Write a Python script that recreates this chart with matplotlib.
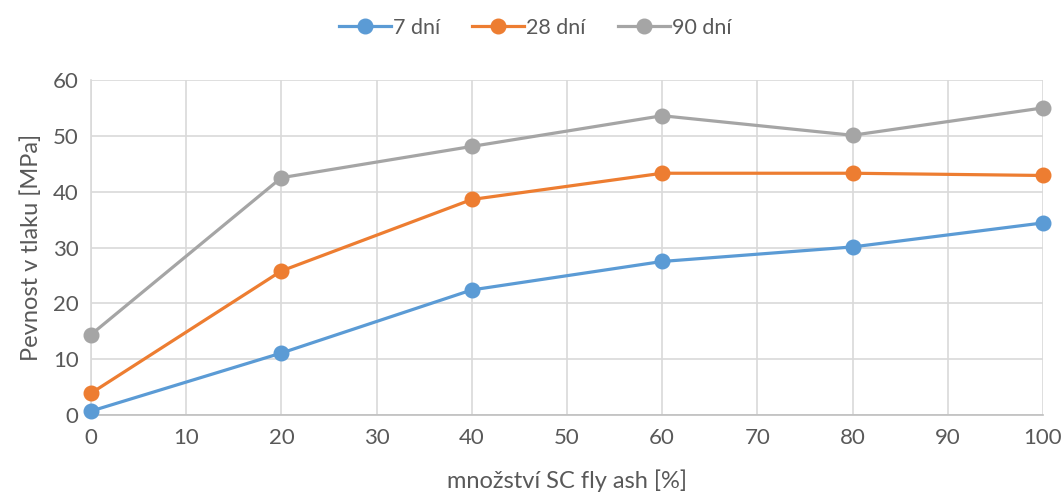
import matplotlib.pyplot as plt

# compressive strength vs. fly ash content
davka = [0, 20, 40, 60, 80, 100]
pevnost_7 = [0.7, 11.1, 22.4, 27.5, 30.1, 34.4]
pevnost_28 = [3.9, 25.8, 38.6, 43.3, 43.3, 42.9]
pevnost_90 = [14.4, 42.5, 48.1, 53.6, 50.1, 55.0]

serie = [("7 dní", pevnost_7, "#5b9bd5"),
         ("28 dní", pevnost_28, "#ed7d31"),
         ("90 dní", pevnost_90, "#a5a5a5")]

plt.rcParams['font.family'] = ['Lato', 'DejaVu Sans']
txt = '#595959'

fig = plt.figure(figsize=(10.62, 4.95), dpi=100)
ax = fig.add_axes([0.0857, 0.1616, 0.8963, 0.6768])

for nazev, ys, barva in serie:
    ax.plot(davka, ys, '-o', color=barva, lw=2.3, ms=10.5, label=nazev,
            clip_on=False, zorder=3)

ax.set_xlim(0, 100)
ax.set_ylim(0, 60)
ax.set_xticks(range(0, 101, 10))
ax.set_yticks(range(0, 61, 10))
ax.grid(True, color='#d9d9d9', lw=1.2)
ax.set_axisbelow(True)
for s in ['top', 'right']:
    ax.spines[s].set_visible(False)
ax.spines['left'].set_color('#d9d9d9')
ax.spines['bottom'].set_color('#bfbfbf')
ax.spines['left'].set_linewidth(1.2)
ax.spines['bottom'].set_linewidth(1.2)
ax.tick_params(length=0, labelsize=16, colors=txt, pad=9)

ax.set_xlabel("množství SC fly ash [%]", fontsize=17, color=txt, labelpad=16)
ax.set_ylabel("Pevnost v tlaku [MPa]", fontsize=17, color=txt, labelpad=8)

fig.legend(loc='upper center', bbox_to_anchor=(0.504, 1.003), ncol=3,
           frameon=False, fontsize=15.5, labelcolor=txt, handlelength=2.4,
           columnspacing=1.5, handletextpad=0.1)

fig.savefig('out.png', dpi=100)
